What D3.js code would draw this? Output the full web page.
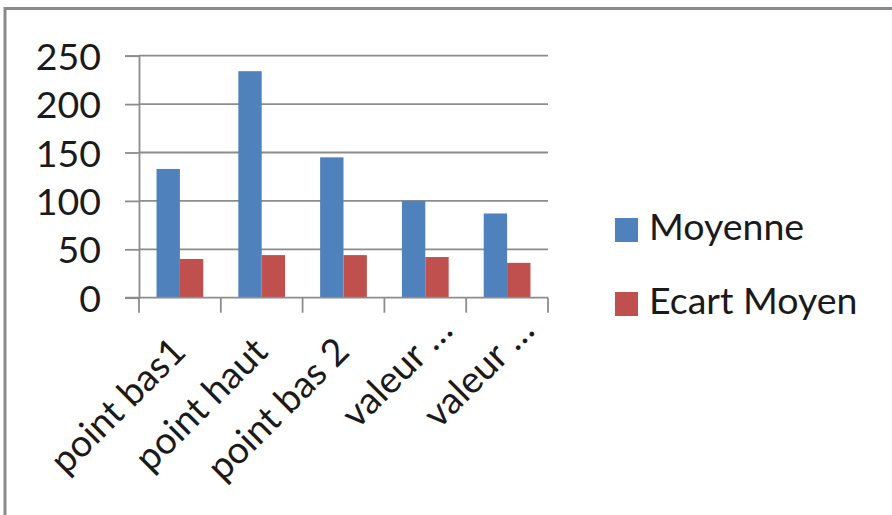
<!DOCTYPE html>
<html>
<head>
<meta charset="utf-8">
<script src="https://cdn.jsdelivr.net/npm/d3@7"></script>
<style>
  html, body { margin: 0; padding: 0; background: #ffffff; }
  svg { display: block; }
  text { font-family: Lato, "Open Sans", sans-serif; fill: #1a1a1a; }
</style>
</head>
<body>
<svg id="chart" width="892" height="515"></svg>
<script>
// Categories and series values
const categories = ["point bas1", "point haut", "point bas 2", "valeur …", "valeur …"];
const seriesNames = ["Moyenne", "Ecart Moyen"];
const moyenne = [133, 234, 145, 100, 87];
const ecartMoyen = [40, 44, 44, 42, 36];
const yTicks = [0, 50, 100, 150, 200, 250];
const colors = ["#4F81BD", "#C0504D"];

const seriesValues = [moyenne, ecartMoyen];
const rows = categories.map((c, i) => ({
  key: i,
  label: c,
  values: seriesNames.map((s, j) => ({ series: s, j, value: seriesValues[j][i] }))
}));

const fontSize = "37.5px";
const svg = d3.select("#chart");

// Outer chart frame (extends past the visible area on the right and bottom)
svg.append("rect")
  .attr("x", 5).attr("y", 8.5)
  .attr("width", 920).attr("height", 540)
  .attr("fill", "#ffffff")
  .attr("stroke", "#8a8a8a")
  .attr("stroke-width", 3);

const plot = { left: 139, right: 548, top: 55.7, bottom: 297.7 };

const y = d3.scaleLinear().domain([0, 250]).range([plot.bottom, plot.top]);
const x0 = d3.scaleBand().domain(d3.range(categories.length))
  .range([plot.left, plot.right]).paddingInner(0).paddingOuter(0);
const x1 = d3.scaleBand().domain(seriesNames)
  .range([0, x0.bandwidth()]).paddingInner(0).paddingOuter(0.75);

// Horizontal gridlines
svg.append("g").selectAll("line")
  .data(yTicks.filter(t => t > 0))
  .join("line")
  .attr("x1", plot.left).attr("x2", plot.right)
  .attr("y1", d => y(d)).attr("y2", d => y(d))
  .attr("stroke", "#8c8c8c").attr("stroke-width", 1.8);

// Bars
const groups = svg.append("g").selectAll("g")
  .data(rows)
  .join("g")
  .attr("transform", d => `translate(${x0(d.key)},0)`);

groups.selectAll("rect")
  .data(d => d.values)
  .join("rect")
  .attr("x", d => x1(d.series))
  .attr("width", x1.bandwidth())
  .attr("y", d => y(d.value))
  .attr("height", d => y(0) - y(d.value))
  .attr("fill", d => colors[d.j]);

// Y axis
const yAxis = svg.append("g")
  .attr("transform", `translate(${plot.left},0)`)
  .call(d3.axisLeft(y).tickValues(yTicks).tickSize(14).tickPadding(24).tickFormat(d3.format("d")));
yAxis.select(".domain").attr("stroke", "#8c8c8c").attr("stroke-width", 1.8);
yAxis.selectAll(".tick line").attr("stroke", "#8c8c8c").attr("stroke-width", 1.8);
yAxis.selectAll(".tick text")
  .style("font-family", "Lato, 'Open Sans', sans-serif")
  .style("font-size", fontSize)
  .attr("fill", "#1a1a1a")
  .attr("dy", "0.36em");

// X axis baseline with ticks at category boundaries
const xg = svg.append("g");
xg.append("line")
  .attr("x1", plot.left - 14).attr("x2", plot.right)
  .attr("y1", y(0)).attr("y2", y(0))
  .attr("stroke", "#8c8c8c").attr("stroke-width", 1.8);
xg.selectAll("line.tk")
  .data(d3.range(categories.length + 1))
  .join("line")
  .attr("class", "tk")
  .attr("x1", i => plot.left + i * x0.step())
  .attr("x2", i => plot.left + i * x0.step())
  .attr("y1", y(0)).attr("y2", y(0) + 15)
  .attr("stroke", "#8c8c8c").attr("stroke-width", 1.8);

// Rotated category labels
xg.selectAll("text")
  .data(rows)
  .join("text")
  .attr("transform", d => `translate(${x0(d.key) + x0.bandwidth() / 2 + 8},${plot.bottom + 56}) rotate(-45)`)
  .attr("text-anchor", "end")
  .attr("dx", d => d.label.endsWith("…") ? 30 : 0)
  .style("font-size", fontSize)
  .text(d => d.label);

// Legend
const legend = svg.append("g").selectAll("g")
  .data(seriesNames)
  .join("g")
  .attr("transform", (d, i) => `translate(615,${218 + i * 74})`);
legend.append("rect")
  .attr("width", 23).attr("height", 24)
  .attr("fill", (d, i) => colors[i]);
legend.append("text")
  .attr("x", 34).attr("y", 22)
  .style("font-size", fontSize)
  .text(d => d);
</script>
</body>
</html>
